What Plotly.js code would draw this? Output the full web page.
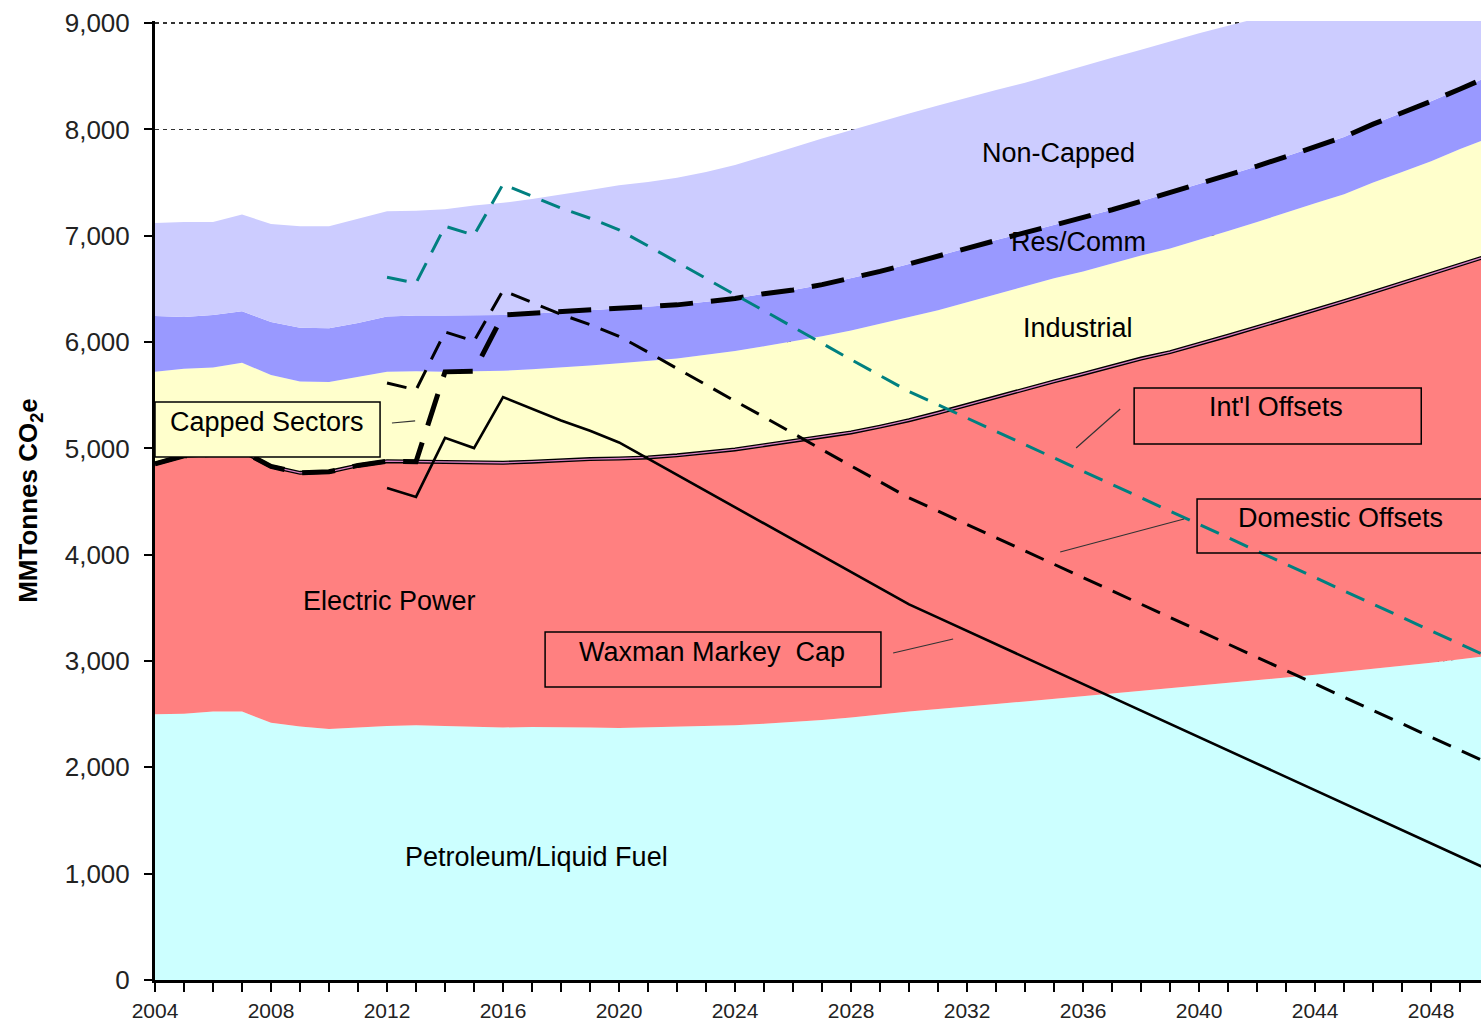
<!DOCTYPE html>
<html>
<head>
<meta charset="utf-8">
<script src="https://cdn.plot.ly/plotly-3.0.1.min.js"></script>
<style>
  html, body { margin: 0; padding: 0; background: #fff; }
  #chart { width: 1481px; height: 1025px; }
</style>
</head>
<body>
<div id="chart"></div>
<script>
// ---------- DATA ----------
const years = [2004,2005,2006,2007,2008,2009,2010,2011,2012,2013,2014,2015,2016,2017,2018,2019,2020,2021,2022,2023,2024,2025,2026,2027,2028,2029,2030,2031,2032,2033,2034,2035,2036,2037,2038,2039,2040,2041,2042,2043,2044,2045,2046,2047,2048,2049,2050];

// cumulative tops of the stacked sector areas (MMTonnes CO2e)
const petroleumTop = [2500,2505,2525,2525,2420,2385,2360,2375,2390,2395,2390,2380,2375,2380,2380,2375,2370,2375,2380,2385,2395,2410,2425,2445,2470,2500,2525,2550,2570,2595,2620,2645,2670,2690,2715,2740,2765,2790,2815,2845,2870,2900,2925,2955,2985,3015,3050];
const electricTop  = [4855,4930,4945,4975,4830,4770,4780,4840,4880,4875,4870,4865,4865,4875,4890,4900,4905,4915,4935,4960,4990,5030,5070,5110,5150,5205,5265,5335,5410,5480,5555,5630,5700,5770,5845,5905,5980,6060,6140,6220,6300,6385,6470,6555,6640,6725,6815];
const industrialTop= [5720,5750,5760,5805,5690,5630,5625,5670,5720,5725,5720,5725,5730,5745,5760,5780,5800,5820,5845,5880,5915,5960,6005,6055,6110,6170,6235,6300,6375,6450,6525,6600,6665,6740,6815,6880,6960,7045,7130,7220,7305,7390,7500,7600,7700,7815,7920];
const resCommTop   = [6245,6235,6255,6290,6190,6135,6130,6180,6240,6250,6250,6250,6255,6270,6280,6300,6315,6330,6350,6380,6410,6455,6490,6540,6600,6665,6735,6810,6890,6960,7030,7100,7170,7245,7325,7405,7490,7570,7655,7745,7835,7930,8050,8155,8265,8380,8500];
const nonCappedTop = [7120,7130,7130,7200,7110,7090,7090,7160,7230,7235,7250,7285,7310,7345,7385,7430,7475,7505,7545,7600,7665,7745,7830,7915,7995,8075,8150,8225,8300,8370,8440,8520,8600,8675,8750,8830,8905,8975,9045,9115,9185,9255,9325,9395,9465,9535,9605];

// emission lines
const cappedSectors = [4855,4930,4945,4975,4830,4770,4780,4840,4880,4875,5720,5725,6255,6270,6280,6300,6315,6330,6350,6380,6410,6455,6490,6540,6600,6665,6735,6810,6890,6960,7030,7100,7170,7245,7325,7405,7490,7570,7655,7745,7835,7930,8050,8155,8265,8380,8500];
const capYears = [2012,2013,2014,2015,2016,2017,2018,2019,2020,2021,2022,2023,2024,2025,2026,2027,2028,2029,2030,2031,2032,2033,2034,2035,2036,2037,2038,2039,2040,2041,2042,2043,2044,2045,2046,2047,2048,2049,2050];
const waxmanMarkeyCap = [4627,4544,5099,5003,5482,5375,5262,5166,5056,4903,4751,4599,4446,4294,4142,3990,3837,3685,3533,3408,3283,3158,3033,2908,2784,2659,2534,2409,2284,2159,2034,1910,1785,1660,1535,1410,1285,1160,1035];
const withDomesticOffsets = [5615,5550,6095,6010,6485,6375,6260,6165,6055,5905,5750,5600,5445,5295,5140,4990,4835,4685,4535,4410,4285,4160,4035,3910,3785,3660,3535,3410,3285,3160,3035,2910,2785,2660,2535,2410,2285,2160,2035];
const withIntlOffsets = [6610,6555,7090,7005,7485,7375,7260,7165,7055,6905,6750,6600,6445,6295,6140,5990,5835,5685,5535,5410,5285,5160,5035,4910,4785,4660,4535,4410,4285,4160,4035,3910,3785,3660,3535,3410,3285,3160,3035];

const yTicks = [0,1000,2000,3000,4000,5000,6000,7000,8000,9000];
const yTickText = ['0','1,000','2,000','3,000','4,000','5,000','6,000','7,000','8,000','9,000'];

// ---------- TRACES ----------
const FONT = '"Liberation Sans", Arial, sans-serif';
function area(y, color, mode) {
  return { x: years, y: y, type: 'scatter', mode: 'lines', fill: mode,
           fillcolor: color, line: { width: 0, color: color }, hoverinfo: 'skip' };
}
const traces = [
  area(petroleumTop, '#CCFFFF', 'tozeroy'),
  area(electricTop, '#FF8080', 'tonexty'),
  area(industrialTop, '#FFFFCC', 'tonexty'),
  area(resCommTop, '#9999FF', 'tonexty'),
  area(nonCappedTop, '#CCCCFF', 'tonexty'),
  // thin bordered stripe on top of Electric Power
  { x: years, y: electricTop, type: 'scatter', mode: 'lines', line: { color: '#000', width: 4 }, hoverinfo: 'skip' },
  { x: years, y: electricTop, type: 'scatter', mode: 'lines', line: { color: '#D67FC0', width: 1.3 }, hoverinfo: 'skip' },
  // capped sectors
  { x: years, y: cappedSectors, type: 'scatter', mode: 'lines', line: { color: '#000', width: 5, dash: '33px,18px' }, hoverinfo: 'skip' },
  // international offsets
  { x: capYears, y: withIntlOffsets, type: 'scatter', mode: 'lines', line: { color: '#008080', width: 3, dash: '20px,12px' }, hoverinfo: 'skip' },
  // domestic offsets
  { x: capYears, y: withDomesticOffsets, type: 'scatter', mode: 'lines', line: { color: '#000', width: 3, dash: '20px,12px' }, hoverinfo: 'skip' },
  // cap
  { x: capYears, y: waxmanMarkeyCap, type: 'scatter', mode: 'lines', line: { color: '#000', width: 2.6 }, hoverinfo: 'skip' }
];

// ---------- LAYOUT ----------
function label(text, x, y) {
  return { text: text, x: x, y: y, xref: 'x', yref: 'y', showarrow: false,
           font: { family: FONT, size: 27, color: '#000' }, xanchor: 'center', yanchor: 'middle' };
}
function box(x0, x1, y0, y1, fill) {
  return { type: 'rect', xref: 'x', yref: 'y', x0: x0, x1: x1, y0: y0, y1: y1,
           line: { color: '#000', width: 1.5 }, fillcolor: fill || 'rgba(0,0,0,0)', layer: 'above' };
}
function callout(x0, y0, x1, y1) {
  return { type: 'line', xref: 'x', yref: 'y', x0: x0, y0: y0, x1: x1, y1: y1,
           line: { color: '#333', width: 1.2 }, layer: 'above' };
}

const layout = {
  width: 1481, height: 1025,
  margin: { l: 155, r: 0, t: 21, b: 45, pad: 0 },
  paper_bgcolor: '#fff', plot_bgcolor: '#fff',
  showlegend: false, hovermode: false,
  font: { family: FONT, color: '#000' },
  xaxis: {
    range: [2004, 2049.72], tick0: 2004, dtick: 4, ticks: 'outside', ticklen: 9, tickwidth: 2, tickcolor: '#000',
    minor: { dtick: 1, ticks: 'outside', ticklen: 9, tickwidth: 2, tickcolor: '#000', showgrid: false },
    showline: true, linecolor: '#000', linewidth: 3, showgrid: false, zeroline: false,
    tickfont: { family: FONT, size: 21, color: '#222' }, ticklabelstandoff: 1
  },
  yaxis: {
    range: [0, 9020], tickvals: yTicks, ticktext: yTickText, ticks: 'outside', ticklen: 8, tickwidth: 2, tickcolor: '#000',
    showline: true, linecolor: '#000', linewidth: 3, zeroline: false,
    showgrid: true, gridcolor: '#333', gridwidth: 1.5, griddash: '4px,4px',
    tickfont: { family: FONT, size: 26, color: '#222' }, ticklabelstandoff: 9,
    title: { text: 'MMTonnes CO<sub>2</sub>e', font: { family: FONT, size: 26, color: '#000', weight: 'bold' }, standoff: 20 }
  },
  shapes: [
    box(2004, 2011.76, 4919, 5436, '#FFFFCC'),
    box(2037.76, 2047.66, 5041, 5568),
    box(2039.93, 2050.6, 4016, 4524),
    box(2017.45, 2029.03, 2756, 3273),
    callout(2012.17, 5239, 2012.97, 5258),
    callout(2037.28, 5371, 2035.76, 5004),
    callout(2039.48, 4336, 2035.21, 4026),
    callout(2029.45, 3076, 2031.52, 3207)
  ],
  annotations: [
    label('Non-Capped', 2035.14, 7778),
    label('Res/Comm', 2035.83, 6941),
    label('Industrial', 2035.83, 6133),
    label('Electric Power', 2012.10, 3565),
    label('Petroleum/Liquid Fuel', 2017.17, 1157),
    label('Capped Sectors', 2007.86, 5248),
    label("Int'l Offsets", 2042.66, 5389),
    label('Domestic Offsets', 2044.86, 4345),
    label('Waxman Markey\u00A0 Cap', 2023.21, 3085)
  ]
};

Plotly.newPlot('chart', traces, layout, { displayModeBar: false, staticPlot: true });
</script>
</body>
</html>
